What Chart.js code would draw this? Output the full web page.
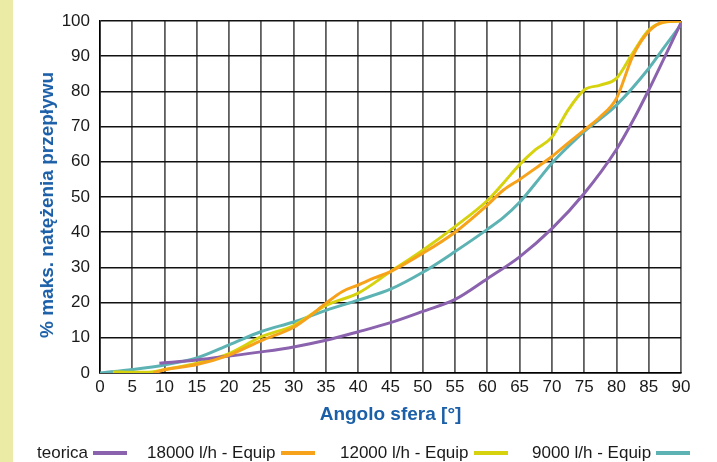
<!DOCTYPE html>
<html>
<head>
<meta charset="utf-8">
<script src="https://cdn.jsdelivr.net/npm/chart.js@4.4.1/dist/chart.umd.min.js"></script>
<style>
    body { margin: 0; background: #fff; }
    #wrap { position: relative; width: 717px; height: 462px; overflow: hidden;
            font-family: "Liberation Sans", Arial, sans-serif; }
    #stripe { position: absolute; left: 0; top: 0; width: 13px; height: 462px; background: #ebeba6; }
    #yTitle { position: absolute; left: 47px; top: 205px; transform: translate(-50%, -50%) rotate(-90deg);
              white-space: nowrap; font-weight: bold; font-size: 19px; color: #1b5fa8; }
    .leg { position: absolute; top: 443px; font-size: 17px; color: #1a1a1a; white-space: nowrap;
           display: flex; align-items: center; }
    .leg span.line { display: inline-block; width: 34px; height: 4px; margin-left: 5px; }
    canvas { position: absolute; left: 0; top: 0; }
</style>
</head>
<body>
<div id="wrap">
    <div id="stripe"></div>
    <canvas id="chart" width="717" height="462"></canvas>
    <div id="yTitle">% maks. natężenia przepływu</div>
    <div id="legend"></div>
</div>
<script>
// angolo sfera (x) e % portata (y) per ogni curva
const teoricaX = [9.2, 15, 20, 25, 30, 35, 40, 45, 50, 55, 60, 65, 70, 75, 80, 82.5, 85, 87.5, 90];
const teoricaY = [2.8, 3.7, 4.8, 6.0, 7.4, 9.3, 11.7, 14.3, 17.5, 20.9, 26.8, 33, 41, 51, 63.5, 71.5, 80.4, 89.9, 99.5];

const q18000X = [8.3, 10, 15, 20, 25, 30, 32, 35, 37.5, 40, 42.5, 45, 50, 55, 60, 62.5, 65, 67.5, 70, 72.5, 75, 77.5, 80, 82.5, 85, 87.5, 90];
const q18000Y = [0, 0.9, 2.4, 5.1, 9.2, 13, 15.5, 19.8, 23.1, 25, 27, 28.8, 34, 40, 47.7, 52, 55, 58.2, 61.5, 65.3, 69, 72.8, 78, 89.9, 97, 99.8, 100];

const q12000X = [2, 5, 8, 10, 15, 20, 25, 30, 35, 40, 45, 50, 55, 60, 62.5, 65, 67.5, 70, 72.5, 75, 77.5, 80, 82.5, 85, 87.5, 90];
const q12000Y = [0.3, 0.2, 0.3, 1, 2.8, 5.5, 10.3, 13.5, 19.2, 22.7, 28.8, 34.9, 41.6, 49, 54, 59.2, 63.5, 67, 74.7, 80.4, 81.8, 83.7, 90.8, 97.4, 99.7, 100];

const q9000X = [0, 5, 10, 15, 20, 25, 30, 35, 40, 45, 50, 55, 60, 62.5, 65, 67.5, 70, 72.5, 75, 77.5, 80, 85, 87.5, 90];
const q9000Y = [0, 1, 2.3, 4.3, 8, 11.8, 14.5, 17.8, 20.7, 23.8, 28.6, 34.5, 40.8, 44.2, 48.5, 54, 59.6, 64.3, 68.6, 72.2, 76.1, 86.5, 92.8, 99];

const seriesNames = ["teorica", "18000 l/h - Equip", "12000 l/h - Equip", "9000 l/h - Equip"];
const seriesColors = ["#8b62ae", "#f7a21b", "#d6d20e", "#5db3b3"];
const legendLeft = [37, 147, 340, 532];

const xTicks = [0, 90, 5];
const yTicks = [0, 100, 10];

function toPoints(xs, ys) {
    return xs.map((x, i) => ({ x: x, y: ys[i] }));
}

const pointSets = [
    toPoints(teoricaX, teoricaY),
    toPoints(q18000X, q18000Y),
    toPoints(q12000X, q12000Y),
    toPoints(q9000X, q9000Y)
];

// draw order: teal under, then purple, yellow, orange on top
const drawOrder = [1, 0, 2, 3];

const datasets = seriesNames.map((name, i) => ({
    label: name,
    data: pointSets[i],
    borderColor: seriesColors[i],
    borderWidth: 3,
    pointRadius: 0,
    tension: 0.3,
    cubicInterpolationMode: 'monotone',
    order: drawOrder[i]
}));

const tickFont = { family: "'Liberation Sans', Arial, sans-serif", size: 17 };

new Chart(document.getElementById('chart'), {
    type: 'line',
    data: { datasets: datasets },
    options: {
        responsive: false,
        animation: false,
        layout: { padding: { top: 21, right: 36, left: 0, bottom: 0 } },
        plugins: { legend: { display: false }, tooltip: { enabled: false } },
        scales: {
            x: {
                type: 'linear',
                min: xTicks[0],
                max: xTicks[1],
                ticks: { stepSize: xTicks[2], autoSkip: false, maxRotation: 0, padding: 4, color: '#1a1a1a', font: tickFont },
                grid: { color: '#5e5e5e', lineWidth: 1.8, drawTicks: false },
                border: { color: '#000', width: 1.5 },
                title: {
                    display: true,
                    text: 'Angolo sfera [°]',
                    color: '#1b5fa8',
                    font: { family: "'Liberation Sans', Arial, sans-serif", size: 19, weight: 'bold' },
                    padding: { top: 0, bottom: 36 }
                },
                afterFit: (scale) => { scale.height = 89; }
            },
            y: {
                min: yTicks[0],
                max: yTicks[1],
                ticks: { stepSize: yTicks[2], padding: 10, color: '#1a1a1a', font: tickFont },
                grid: { color: '#111', lineWidth: 1.5, drawTicks: false },
                border: { color: '#000', width: 1.5 },
                afterFit: (scale) => { scale.width = 100; }
            }
        }
    }
});

const legend = document.getElementById('legend');
seriesNames.forEach((name, i) => {
    const item = document.createElement('div');
    item.className = 'leg';
    item.style.left = legendLeft[i] + 'px';
    item.innerHTML = '<span>' + name + '</span><span class="line" style="background:' + seriesColors[i] + '"></span>';
    legend.appendChild(item);
});
</script>
</body>
</html>
